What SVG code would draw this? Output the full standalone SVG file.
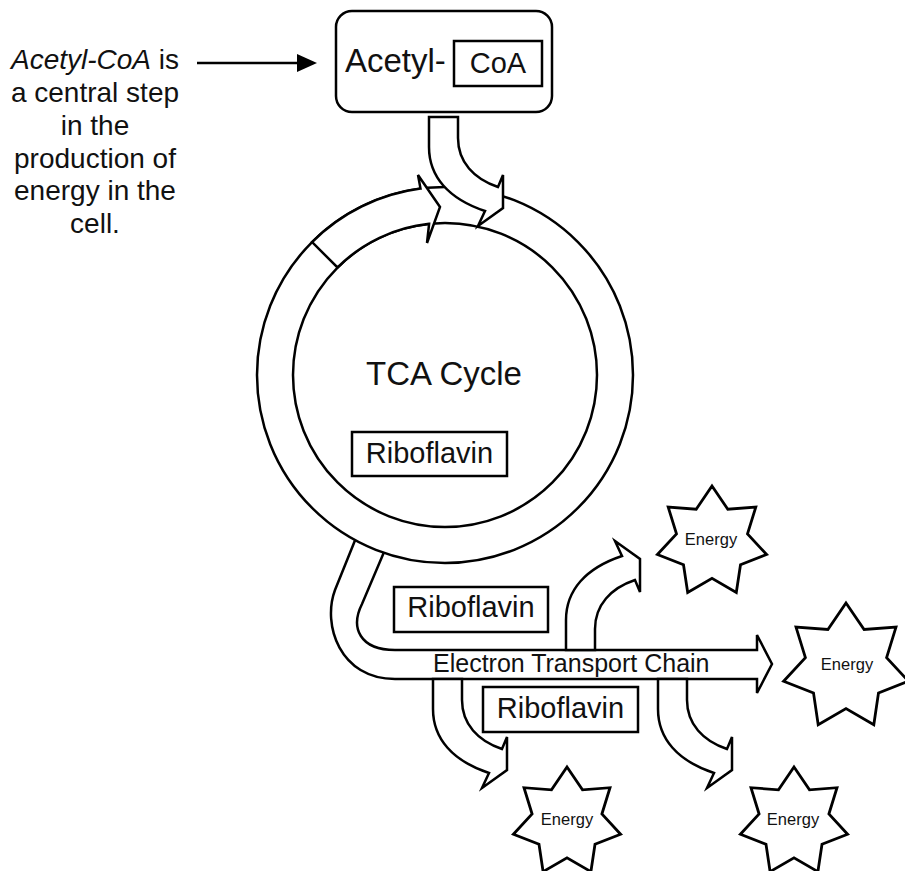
<svg xmlns="http://www.w3.org/2000/svg" xmlns:xlink="http://www.w3.org/1999/xlink" width="905" height="871" viewBox="0 0 905 871">
<style>
.ln{fill:#fff;stroke:#000;stroke-width:2.5;stroke-linejoin:miter}
.bx{fill:#fff;stroke:#000;stroke-width:2.5}
.t{font-family:"Liberation Sans",Arial,sans-serif;fill:#111}
.st{fill:#fff;stroke:#000;stroke-width:2.8;stroke-linejoin:miter}
</style>
<defs>
<path id="bend" d="M0,0 L29,0 L29,21 C29,45 45,62 69,70 L74,58 L74,91 L49,109 L56,94 C20,82 0,60 0,30 Z"/>
</defs>
<rect width="905" height="871" fill="#fff"/>

<g id="note">
<text class="t" font-size="28" text-anchor="middle"><tspan x="95" y="69"><tspan font-style="italic">Acetyl-CoA</tspan> is</tspan><tspan x="95" y="102">a central step</tspan><tspan x="95" y="135">in the</tspan><tspan x="95" y="168">production of</tspan><tspan x="95" y="200">energy in the</tspan><tspan x="95" y="233">cell.</tspan></text>
</g>

<g id="etc">
<path class="ln" d="M360,528 L335,590 C322,625 340,679 395,679 L757,679 L757,693 L772,664 L757,635 L757,650 L395,650 C360,650 350,628 362,604 L390,538 Z"/>
<text class="t" x="433" y="672" font-size="25">Electron Transport Chain</text>
</g>

<g id="tca-cycle">
<circle class="ln" cx="445" cy="375" r="188"/>
<circle class="ln" cx="445" cy="375" r="152"/>
<path class="ln" d="M312.1,242.1 A188,188 0 0 1 420.5,188.6 L418,175 L440,207 L427,243 L429.1,223.8 A152,152 0 0 0 337.5,267.5 Z"/>
<text class="t" x="444" y="385" font-size="33" text-anchor="middle">TCA Cycle</text>
</g>

<g id="riboflavin-1">
<rect class="bx" x="352" y="432" width="155" height="44"/>
<text class="t" x="429.5" y="463" font-size="29" text-anchor="middle">Riboflavin</text>
</g>
<g id="riboflavin-2">
<rect class="bx" x="394" y="587" width="154" height="45"/>
<text class="t" x="471" y="617" font-size="29" text-anchor="middle">Riboflavin</text>
</g>
<g id="riboflavin-3">
<rect class="bx" x="483" y="687" width="155" height="45"/>
<text class="t" x="560.5" y="718" font-size="29" text-anchor="middle">Riboflavin</text>
</g>

<g id="acetyl-coa">
<rect class="bx" x="336" y="11" width="216" height="101" rx="16"/>
<text class="t" x="345" y="72" font-size="33">Acetyl-</text>
<rect class="bx" x="454" y="41" width="88" height="45"/>
<text class="t" x="498" y="73" font-size="29" text-anchor="middle">CoA</text>
</g>

<g id="energy-1">
<polygon class="st" points="712,486 727.8,509.2 755.8,507.1 747.5,533.9 766.6,554.5 740.5,564.7 736.3,592.5 712,578.4 687.7,592.5 683.5,564.7 657.4,554.5 676.5,533.9 668.2,507.1 696.2,509.2"/>
<text class="t" x="711" y="545" font-size="16.5" text-anchor="middle">Energy</text>
</g>
<g id="energy-2">
<polygon class="st" points="846,603 864.1,629.5 896,627.1 886.6,657.7 908.4,681.2 878.5,692.9 873.8,724.7 846,708.6 818.2,724.7 813.5,692.9 783.6,681.2 805.4,657.7 796,627.1 827.9,629.5"/>
<text class="t" x="847" y="670" font-size="16.5" text-anchor="middle">Energy</text>
</g>
<g id="energy-3">
<polygon class="st" points="567,767 582.5,789.8 610,787.7 601.9,814 620.6,834.2 595,844.3 590.9,871.6 567,857.8 543.1,871.6 539,844.3 513.4,834.2 532.1,814 524,787.7 551.5,789.8"/>
<text class="t" x="567" y="825" font-size="16.5" text-anchor="middle">Energy</text>
</g>
<g id="energy-4">
<polygon class="st" points="794,767 809.5,789.8 837,787.7 828.9,814 847.6,834.2 822,844.3 817.9,871.6 794,857.8 770.1,871.6 766,844.3 740.4,834.2 759.1,814 751,787.7 778.5,789.8"/>
<text class="t" x="793" y="825" font-size="16.5" text-anchor="middle">Energy</text>
</g>

<g id="connectors">
<line x1="197" y1="63" x2="299" y2="63" stroke="#000" stroke-width="2.5"/>
<polygon points="297,54 317,63 297,72" fill="#000"/>
<use xlink:href="#bend" class="ln" transform="translate(429,117)"/>
<use xlink:href="#bend" class="ln" transform="translate(433,679)"/>
<use xlink:href="#bend" class="ln" transform="translate(658,679)"/>
<use xlink:href="#bend" class="ln" transform="translate(566,650) scale(1,-1)"/>
</g>
</svg>
